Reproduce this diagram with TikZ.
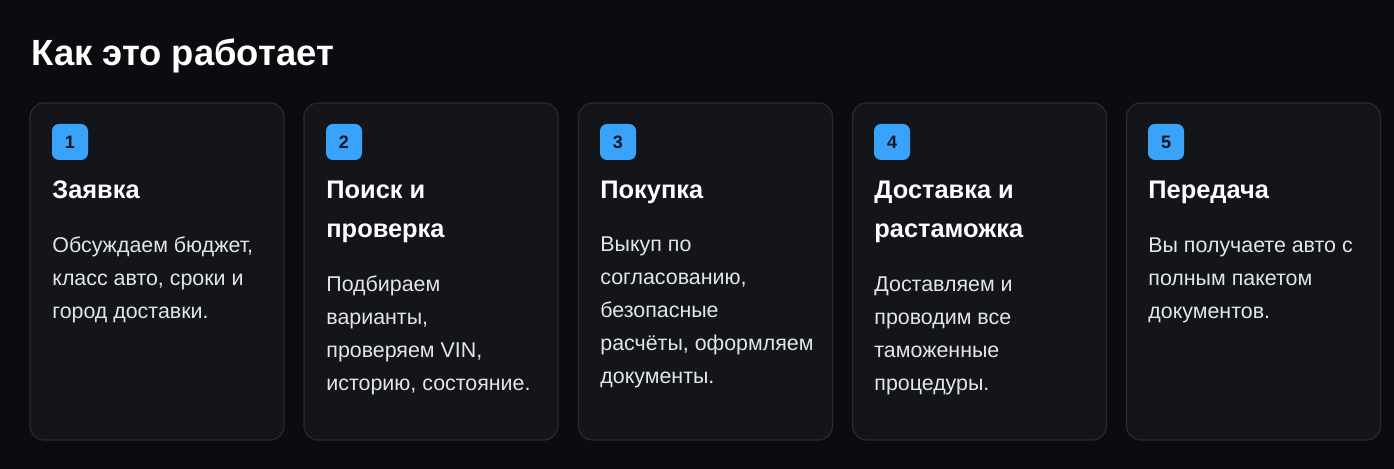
\documentclass[tikz,border=0pt]{standalone}
\usepackage{fontspec}
\setmainfont{Liberation Sans}
\usepackage{tikz}
\usetikzlibrary{positioning}
\definecolor{pagebg}{RGB}{11, 12, 15}
\definecolor{cardbg}{RGB}{19, 21, 26}
\definecolor{cardline}{RGB}{39, 43, 50}
\definecolor{badgeblue}{RGB}{58, 162, 248}
\definecolor{badgeink}{RGB}{10, 22, 36}
\definecolor{bodyink}{RGB}{226, 229, 234}

\tikzset{
    card/.style={draw=cardline, fill=cardbg, line width=0.6pt, rounded corners=7pt,
                 minimum width=127pt, minimum height=168.5pt, inner sep=0pt},
    badge/.style={fill=badgeblue, text=badgeink, rounded corners=3.5pt, minimum size=18pt,
                  inner sep=0pt, font=\fontsize{9}{10}\selectfont\bfseries},
    head/.style={anchor=base west, text=white, inner sep=0pt, align=left,
                 font=\fontsize{12.7}{19.5}\selectfont\bfseries},
    body/.style={anchor=base west, text=bodyink, inner sep=0pt, align=left,
                 font=\fontsize{10.7}{16.5}\selectfont}
}

\begin{document}
\begin{tikzpicture}[x=0.5pt, y=-0.5pt]
            \fill[pagebg] (0,0) rectangle (1394,469);
            \useasboundingbox (0,0) rectangle (1394,469);
            \node[anchor=base west, text=white, inner sep=0pt, font=\fontsize{18.2}{22}\selectfont\bfseries]
                 (title) at (31,66) {Как это работает};
            % cards
            \node[card] (card1) at ( 157.0, 271.5) {};
            \node[card] (card2) at ( 431.0, 271.5) {};
            \node[card] (card3) at ( 705.5, 271.5) {};
            \node[card] (card4) at ( 979.5, 271.5) {};
            \node[card] (card5) at (1253.5, 271.5) {};
            % badges
            \node[badge] (badge1) at (  70, 142) {1};
            \node[badge] (badge2) at ( 344, 142) {2};
            \node[badge] (badge3) at ( 618, 142) {3};
            \node[badge] (badge4) at ( 892, 142) {4};
            \node[badge] (badge5) at (1166, 142) {5};
            % headings (anchored on the last line)
            \node[head] (head1) at (  52, 199) {Заявка};
            \node[head] (head2) at ( 326, 238) {Поиск и\\проверка};
            \node[head] (head3) at ( 600, 199) {Покупка};
            \node[head] (head4) at ( 874, 238) {Доставка и\\растаможка};
            \node[head] (head5) at (1148, 199) {Передача};
            % texts (anchored on the last line)
            \node[body] (body1) at (  52, 319) {Обсуждаем бюджет,\\класс авто, сроки и\\город доставки.};
            \node[body] (body2) at ( 326, 391) {Подбираем\\варианты,\\проверяем VIN,\\историю, состояние.};
            \node[body] (body3) at ( 600, 384) {Выкуп по\\согласованию,\\безопасные\\расчёты, оформляем\\документы.};
            \node[body] (body4) at ( 874, 391) {Доставляем и\\проводим все\\таможенные\\процедуры.};
            \node[body] (body5) at (1148, 319) {Вы получаете авто с\\полным пакетом\\документов.};
        \end{tikzpicture}
\end{document}
